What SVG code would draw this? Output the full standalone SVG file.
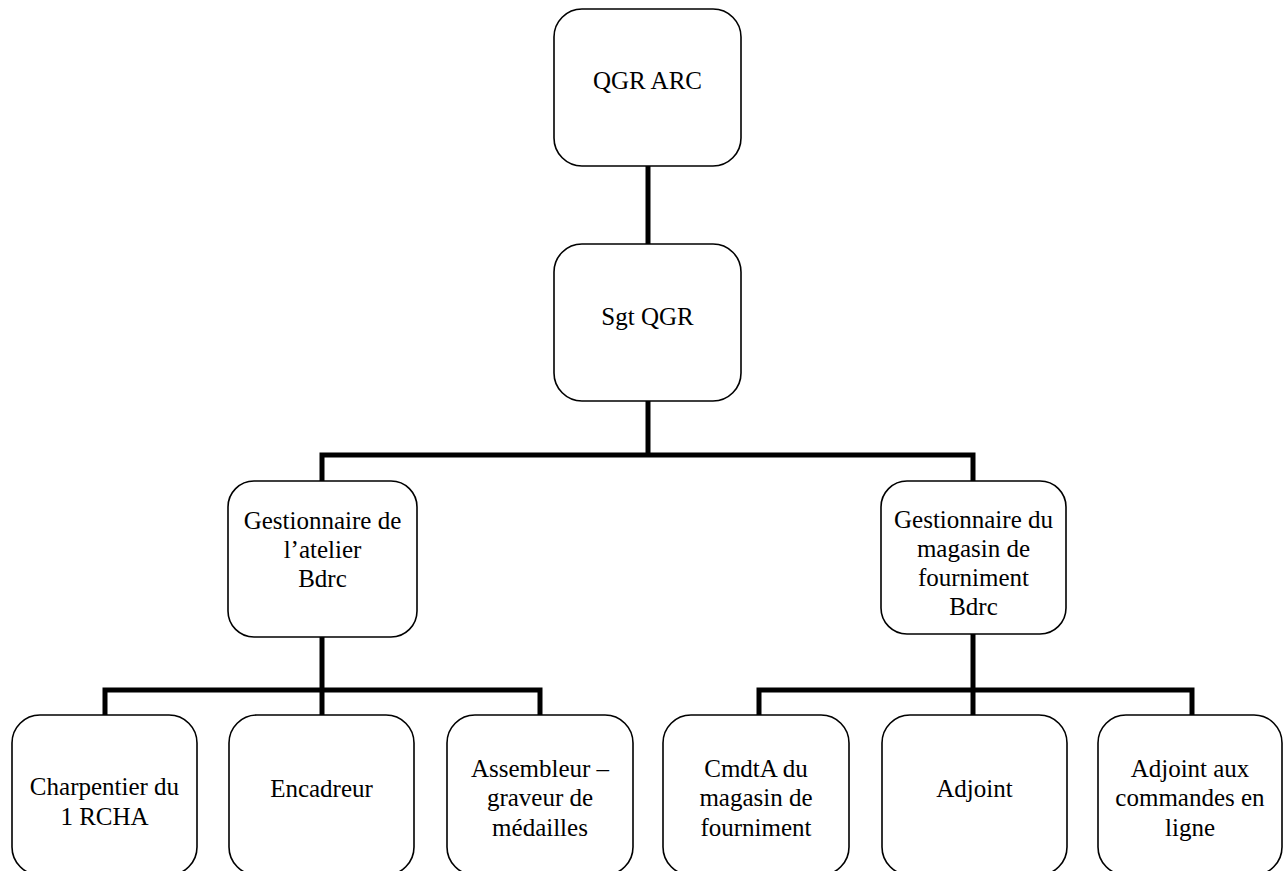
<svg xmlns="http://www.w3.org/2000/svg" width="1286" height="871" viewBox="0 0 1286 871">
<style>
.box{fill:#fff;stroke:#000;stroke-width:1.6}
.lbl{font-family:'Liberation Serif','Times New Roman',serif;font-size:25px;fill:#000;text-anchor:middle}
.con{fill:none;stroke:#000;stroke-width:5;stroke-linejoin:miter;stroke-linecap:butt}
</style>
<rect width="1286" height="871" fill="#fff"/>
<g id="connectors">
<path class="con" d="M648,166V244"/>
<path class="con" d="M648,401V455"/>
<path class="con" d="M322,481V455H973V481"/>
<path class="con" d="M322,637V690"/>
<path class="con" d="M105,715V690H540V715"/>
<path class="con" d="M322,690V715"/>
<path class="con" d="M973,634V690"/>
<path class="con" d="M759,715V690H1192V715"/>
<path class="con" d="M973,690V715"/>
</g>
<g id="n-qgr-arc">
<rect class="box" x="554" y="9" width="187" height="157" rx="28"/>
<text class="lbl" x="647.5" y="89">QGR ARC</text>
</g>
<g id="n-sgt-qgr">
<rect class="box" x="554" y="244" width="187" height="157" rx="28"/>
<text class="lbl" x="647.5" y="325">Sgt QGR</text>
</g>
<g id="n-atelier">
<rect class="box" x="228" y="481" width="189" height="156" rx="26"/>
<text class="lbl" x="322.5" y="529">Gestionnaire de</text>
<text class="lbl" x="322.5" y="558">l’atelier</text>
<text class="lbl" x="322.5" y="587">Bdrc</text>
</g>
<g id="n-magasin">
<rect class="box" x="881" y="481" width="185" height="153" rx="26"/>
<text class="lbl" x="973.5" y="528">Gestionnaire du</text>
<text class="lbl" x="973.5" y="557">magasin de</text>
<text class="lbl" x="973.5" y="586">fourniment</text>
<text class="lbl" x="973.5" y="615">Bdrc</text>
</g>
<g id="n-charpentier">
<rect class="box" x="12" y="715" width="185" height="160" rx="28"/>
<text class="lbl" x="104.5" y="795">Charpentier du</text>
<text class="lbl" x="104.5" y="825">1 RCHA</text>
</g>
<g id="n-encadreur">
<rect class="box" x="229" y="715" width="185" height="160" rx="28"/>
<text class="lbl" x="321.5" y="797">Encadreur</text>
</g>
<g id="n-assembleur">
<rect class="box" x="447" y="715" width="186" height="160" rx="28"/>
<text class="lbl" x="540" y="777">Assembleur –</text>
<text class="lbl" x="540" y="806">graveur de</text>
<text class="lbl" x="540" y="836">médailles</text>
</g>
<g id="n-cmdta">
<rect class="box" x="663" y="715" width="186" height="160" rx="28"/>
<text class="lbl" x="756" y="777">CmdtA du</text>
<text class="lbl" x="756" y="806">magasin de</text>
<text class="lbl" x="756" y="836">fourniment</text>
</g>
<g id="n-adjoint">
<rect class="box" x="882" y="715" width="185" height="160" rx="28"/>
<text class="lbl" x="974.5" y="797">Adjoint</text>
</g>
<g id="n-adjoint-cmd">
<rect class="box" x="1098" y="715" width="184" height="160" rx="28"/>
<text class="lbl" x="1190" y="777">Adjoint aux</text>
<text class="lbl" x="1190" y="806">commandes en</text>
<text class="lbl" x="1190" y="836">ligne</text>
</g>
</svg>
